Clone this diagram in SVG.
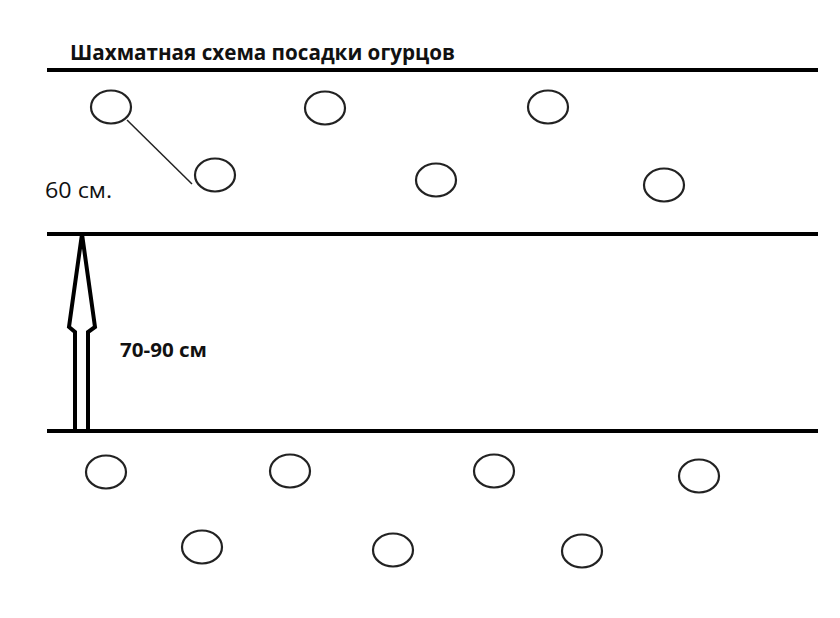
<svg xmlns="http://www.w3.org/2000/svg" width="840" height="618" viewBox="0 0 840 618">
<style>
.bed{stroke:#000;stroke-width:4;fill:none}
.plant{fill:none;stroke:#222;stroke-width:2.2}
.t{font-family:"Open Sans","Liberation Sans",sans-serif;fill:#111}
</style>
<rect width="840" height="618" fill="#fff"/>
<text class="t" x="70" y="60" font-size="21" font-weight="bold" textLength="385" lengthAdjust="spacingAndGlyphs">Шахматная схема посадки огурцов</text>
<g id="connectors">
<line class="bed" x1="47" y1="70" x2="818" y2="70"/>
<line class="bed" x1="47" y1="234" x2="818" y2="234"/>
<line class="bed" x1="47" y1="431" x2="818" y2="431"/>
<line x1="127" y1="120" x2="192" y2="184" stroke="#222" stroke-width="1.5"/>
<polygon points="82,234 95,327 88,332 88,431 75,431 75,332 69,327" fill="#fff" stroke="#000" stroke-width="4" stroke-linejoin="miter"/>
</g>
<g id="p1"><ellipse class="plant" cx="111" cy="107" rx="20" ry="16.5"/></g>
<g id="p2"><ellipse class="plant" cx="325" cy="108" rx="20" ry="16.5"/></g>
<g id="p3"><ellipse class="plant" cx="548" cy="107" rx="20" ry="16.5"/></g>
<g id="p4"><ellipse class="plant" cx="215" cy="175" rx="20" ry="16.5"/></g>
<g id="p5"><ellipse class="plant" cx="436" cy="180" rx="20" ry="16.5"/></g>
<g id="p6"><ellipse class="plant" cx="664" cy="185" rx="20" ry="16.5"/></g>
<g id="p7"><ellipse class="plant" cx="106" cy="472" rx="20" ry="16.5"/></g>
<g id="p8"><ellipse class="plant" cx="290" cy="471" rx="20" ry="16.5"/></g>
<g id="p9"><ellipse class="plant" cx="494" cy="471" rx="20" ry="16.5"/></g>
<g id="p10"><ellipse class="plant" cx="699" cy="476" rx="20" ry="16.5"/></g>
<g id="p11"><ellipse class="plant" cx="202" cy="547" rx="20" ry="16.5"/></g>
<g id="p12"><ellipse class="plant" cx="393" cy="550" rx="20" ry="16.5"/></g>
<g id="p13"><ellipse class="plant" cx="582" cy="551" rx="20" ry="16.5"/></g>
<text class="t" x="45" y="198" font-size="21" textLength="67" lengthAdjust="spacingAndGlyphs">60 см.</text>
<text class="t" x="120" y="357" font-size="20" font-weight="bold" textLength="87" lengthAdjust="spacingAndGlyphs">70-90 см</text>
</svg>
